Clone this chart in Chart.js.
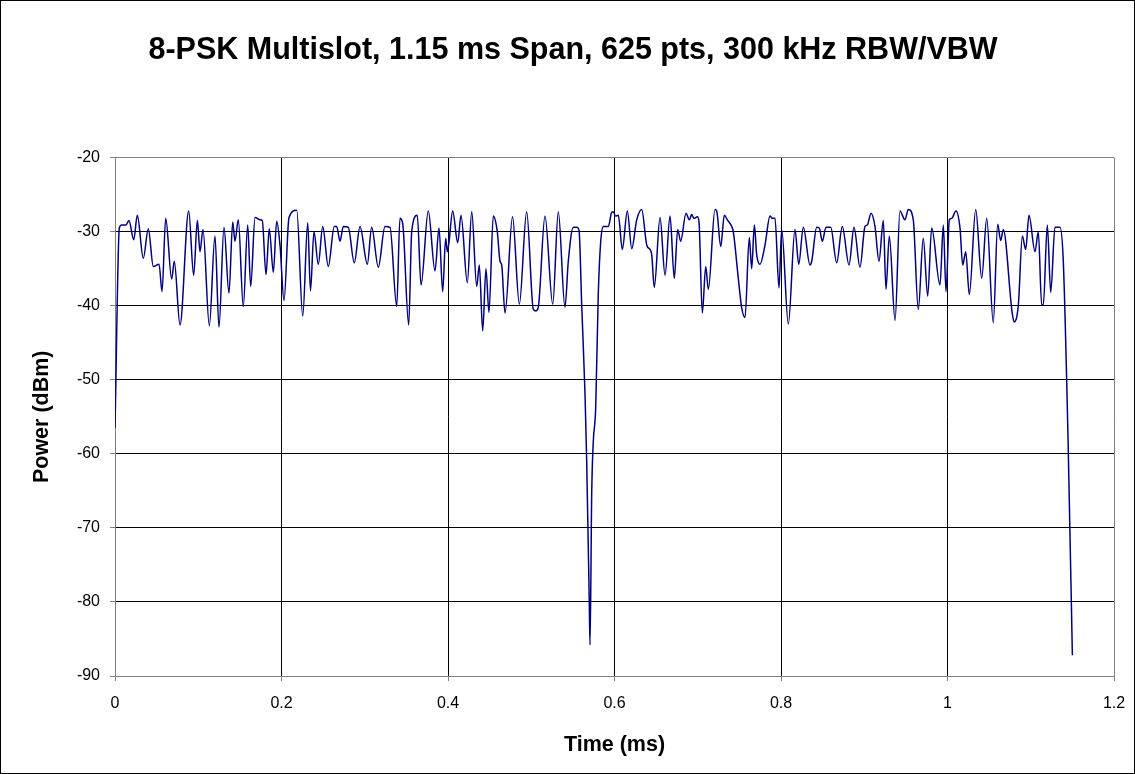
<!DOCTYPE html>
<html>
<head>
<meta charset="utf-8">
<script src="https://cdn.jsdelivr.net/npm/chart.js@4"></script>
<style>
html, body { margin: 0; padding: 0; background: #fff; }
canvas { display: block; }
</style>
</head>
<body>
<canvas id="trace" width="1135" height="774"></canvas>
<script>
// 8-PSK multislot burst (time in ms, power in dBm)
const timeMs = [
  0, 0.0052, 0.0080, 0.0132, 0.0168, 0.0225, 0.0268, 0.0340, 0.0400, 0.0460, 0.0529, 0.0565, 0.0609, 0.0681, 0.0712, 0.0781, 0.0885, 0.0945, 0.0989, 0.1021, 0.1057, 0.1133,
  0.1201, 0.1249, 0.1309, 0.1369, 0.1414, 0.1441, 0.1481, 0.1541, 0.1594, 0.1630, 0.1682, 0.1742, 0.1769, 0.1814, 0.1853, 0.1902, 0.1942, 0.1982, 0.2030, 0.2090, 0.2183, 0.2255, 0.2315,
  0.2348, 0.2390, 0.2442, 0.2495, 0.2562, 0.2634, 0.2663, 0.2703, 0.2742, 0.2802, 0.2874, 0.2943, 0.3031, 0.3083, 0.3163, 0.3243, 0.3303, 0.3384, 0.3423, 0.3456, 0.3528,
  0.3564, 0.3631, 0.3676, 0.3763, 0.3844, 0.3892, 0.3936, 0.3972, 0.3992, 0.4012, 0.4056, 0.4117, 0.4156, 0.4232, 0.4285, 0.4345, 0.4376, 0.4417, 0.4456, 0.4492, 0.4544, 0.4592, 0.4625, 0.4645, 0.4685, 0.4775,
  0.4857, 0.4945, 0.5025, 0.5057, 0.5085, 0.5165, 0.5258, 0.5325, 0.5405, 0.5445, 0.5505, 0.5546, 0.5574, 0.5606, 0.5646, 0.5666, 0.5697, 0.5706, 0.5726, 0.5745, 0.5774, 0.5805, 0.5834, 0.5866, 0.5926, 0.5966,
  0.5986, 0.6012, 0.6046, 0.6094, 0.6154, 0.6207, 0.6267, 0.6327, 0.6387, 0.6426, 0.6447, 0.6478, 0.6547, 0.6607, 0.6667, 0.6718, 0.6759, 0.6795, 0.6859, 0.6899, 0.6927, 0.6955, 0.6995, 0.7015, 0.7055, 0.7096, 0.7127,
  0.7207, 0.7228, 0.7276, 0.7319, 0.7355, 0.7408, 0.7427, 0.7487, 0.7528, 0.7568, 0.7619, 0.7648, 0.7680, 0.7708, 0.7748, 0.7808, 0.7868, 0.7896, 0.7928, 0.7976, 0.8008, 0.8088, 0.8168, 0.8213, 0.8268, 0.8348,
  0.8369, 0.8429, 0.8460, 0.8496, 0.8541, 0.8597, 0.8669, 0.8736, 0.8817, 0.8877, 0.8949, 0.9009, 0.9037, 0.9081, 0.9129, 0.9177, 0.9229, 0.9261, 0.9301, 0.9370, 0.9429, 0.9489, 0.9529,
  0.9589, 0.9649, 0.9709, 0.9762, 0.9810, 0.9910, 0.9950, 0.9982, 1.0022, 1.0051, 1.0102, 1.0150, 1.0183, 1.0219, 1.0262, 1.0339, 1.0411, 1.0471, 1.0550, 1.0603, 1.0639, 1.0670, 1.0775,
  1.0799, 1.0851, 1.0899, 1.0939, 1.0979, 1.1051, 1.1091, 1.1131, 1.1151, 1.1199, 1.1240, 1.1291, 1.1351, 1.1391, 1.1448, 1.15
];
const powerDbm = [
  -56.5, -29.5, -29.1, -29.1, -28.5, -31.1, -27.8, -33.6, -29.6, -34.7, -34.4, -38.1, -28.2, -36.4, -34.0, -42.6, -27.2, -35.9, -28.5, -32.7, -29.7, -42.7,
  -30.6, -42.9, -29.4, -38.3, -28.7, -31.3, -28.4, -40.1, -29.1, -37.4, -28.1, -28.4, -28.5, -35.8, -29.6, -35.5, -28.6, -31.8, -39.3, -28.1, -27.1, -41.4, -28.8,
  -38.0, -30.0, -34.4, -29.3, -34.7, -29.3, -29.3, -31.3, -29.3, -29.4, -34.2, -29.3, -34.4, -29.4, -34.8, -29.3, -29.4, -40.1, -28.2, -28.9, -42.6,
  -30.0, -27.8, -37.2, -27.2, -35.3, -29.5, -38.1, -30.9, -32.7, -31.4, -27.2, -31.5, -27.8, -36.9, -27.3, -37.4, -34.5, -43.4, -35.0, -40.9, -27.9, -30.0, -34.0, -34.5, -41.0, -28.0,
  -39.8, -27.3, -40.5, -40.7, -40.2, -27.9, -39.8, -27.3, -40.2, -34.0, -29.4, -29.4, -29.8, -39.9, -52.0, -61.0, -80.0, -85.8, -65.5, -58.4, -53.8, -38.5, -31.4, -29.3, -29.3, -27.4,
  -27.3, -27.9, -27.8, -32.4, -27.2, -32.3, -28.4, -27.0, -31.8, -32.4, -33.1, -37.5, -28.1, -35.9, -27.9, -36.3, -29.7, -31.3, -27.5, -28.4, -27.7, -28.2, -28.0, -28.7, -41.0, -34.7, -37.8,
  -27.0, -27.2, -32.0, -27.8, -28.4, -29.3, -30.0, -36.3, -40.3, -41.6, -30.8, -35.0, -29.1, -33.1, -34.4, -31.8, -27.9, -28.2, -28.2, -37.6, -29.7, -42.5, -29.7, -34.4, -29.4, -34.5,
  -34.0, -29.4, -29.5, -31.3, -29.4, -29.4, -34.2, -29.3, -34.5, -29.4, -34.8, -29.3, -29.1, -27.5, -29.3, -34.0, -28.5, -37.8, -30.6, -42.0, -27.2, -28.4, -27.0,
  -28.4, -40.5, -30.9, -38.7, -29.5, -37.2, -29.1, -38.1, -28.4, -28.2, -27.2, -29.5, -34.5, -32.7, -38.5, -27.0, -36.3, -28.2, -42.3, -29.0, -31.2, -29.7, -40.8,
  -42.2, -39.9, -30.6, -32.4, -27.8, -32.7, -30.0, -39.9, -39.9, -29.1, -38.2, -29.4, -29.4, -34.0, -58.0, -87.2
];
const xTicks = [0, 0.2, 0.4, 0.6, 0.8, 1, 1.2];
const yTicks = [-90, -80, -70, -60, -50, -40, -30, -20];

const FONT = "'Liberation Sans', Arial, sans-serif";
Chart.defaults.font.family = FONT;
Chart.defaults.color = "#000";

// outer frame round the whole chart
const frame = {
  id: "frame",
  afterDraw(c) {
    const ctx = c.ctx;
    ctx.save();
    ctx.strokeStyle = "#000";
    ctx.lineWidth = 1;
    ctx.strokeRect(0.5, 0.5, c.width - 1, c.height - 1);
    ctx.restore();
  }
};

const edge = (vals) => (ctx) => {
  const v = ctx.tick ? ctx.tick.value : null;
  return (v === vals[0] || v === vals[vals.length - 1]) ? "#808080" : "#000";
};

new Chart(document.getElementById("trace"), {
  type: "line",
  data: {
    datasets: [{
      data: timeMs.map((t, i) => ({ x: t, y: powerDbm[i] })),
      borderColor: "#000080",
      borderWidth: 1.5,
      pointRadius: 0,
      fill: false,
      cubicInterpolationMode: "monotone"
    }]
  },
  options: {
    responsive: false,
    devicePixelRatio: 1,
    animation: false,
    layout: { padding: { left: 32, right: 21, top: 0, bottom: 0 } },
    plugins: {
      legend: { display: false },
      tooltip: { enabled: false },
      title: {
        display: true,
        text: "8-PSK Multislot, 1.15 ms Span, 625 pts, 300 kHz RBW/VBW",
        color: "#000",
        font: { size: 30.5, weight: "bold", family: FONT },
        padding: { top: 32, bottom: 89 }
      }
    },
    scales: {
      x: {
        type: "linear",
        min: xTicks[0],
        max: xTicks[xTicks.length - 1],
        afterBuildTicks: (s) => { s.ticks = xTicks.map(v => ({ value: v })); },
        afterFit: (s) => { s.height = 98; s.paddingLeft = 0; s.paddingRight = 0; },
        ticks: {
          font: { size: 16 },
          color: "#000",
          padding: 13,
          maxRotation: 0,
          callback: (v) => String(v)
        },
        grid: { color: edge(xTicks), tickColor: "#808080", tickLength: 5, lineWidth: 1 },
        border: { color: "#808080" },
        title: {
          display: true,
          text: "Time (ms)",
          font: { size: 21.5, weight: "bold" },
          padding: { top: 0, bottom: 16 }
        }
      },
      y: {
        min: yTicks[0],
        max: yTicks[yTicks.length - 1],
        afterBuildTicks: (s) => { s.ticks = yTicks.map(v => ({ value: v })); },
        afterFit: (s) => { s.width = 83; },
        ticks: {
          font: { size: 16 },
          color: "#000",
          padding: 10,
          callback: (v) => String(v)
        },
        grid: { color: edge(yTicks), tickColor: "#808080", tickLength: 5, lineWidth: 1 },
        border: { color: "#808080" },
        title: {
          display: true,
          text: "Power (dBm)",
          font: { size: 21.5, weight: "bold" },
          padding: { top: -3, bottom: 0 }
        }
      }
    }
  },
  plugins: [frame]
});
</script>
</body>
</html>
